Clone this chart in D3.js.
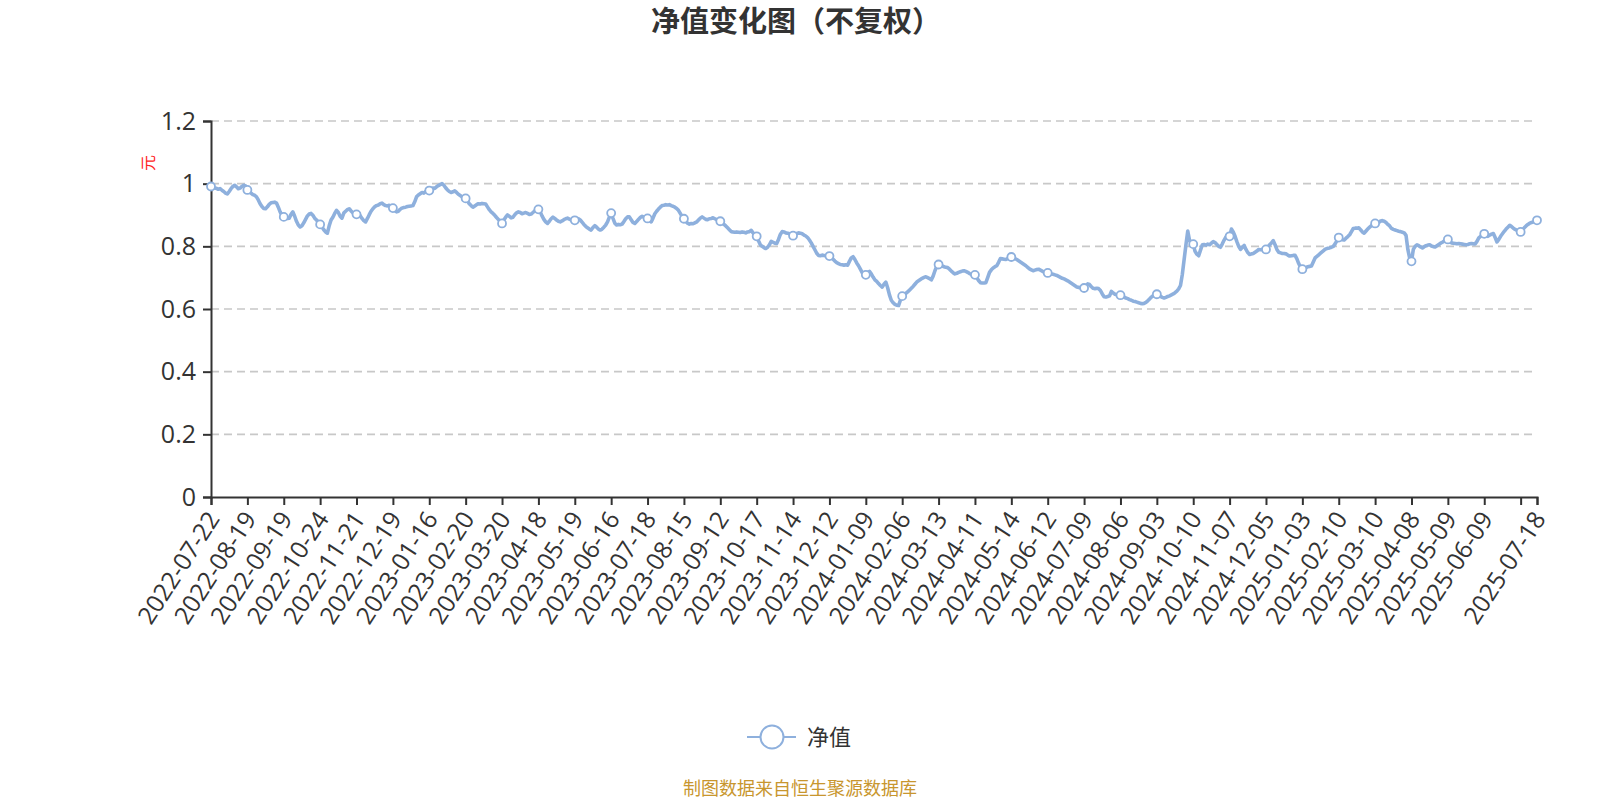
<!DOCTYPE html>
<html>
<head>
<meta charset="utf-8">
<script src="https://cdn.jsdelivr.net/npm/d3@7"></script>
<style>
  body { margin: 0; background: #fff; }
  text { font-family: "Open Sans", "Noto Sans CJK SC", sans-serif; }
</style>
</head>
<body>
<div id="chart"></div>
<script>
// tick labels shown under the axis, one every 20 trading days
const tickLabels = [
  "2022-07-22", "2022-08-19", "2022-09-19", "2022-10-24", "2022-11-21", "2022-12-19",
  "2023-01-16", "2023-02-20", "2023-03-20", "2023-04-18", "2023-05-19", "2023-06-16",
  "2023-07-18", "2023-08-15", "2023-09-12", "2023-10-17", "2023-11-14", "2023-12-12",
  "2024-01-09", "2024-02-06", "2024-03-13", "2024-04-11", "2024-05-14", "2024-06-12",
  "2024-07-09", "2024-08-06", "2024-09-03", "2024-10-10", "2024-11-07", "2024-12-05",
  "2025-01-03", "2025-02-10", "2025-03-10", "2025-04-08", "2025-05-09", "2025-06-09"
];
const lastLabel = "2025-07-18";

// 净值, one value per trading day
const navValues = [
  0.991, 0.989, 0.986, 0.985, 0.982, 0.984, 0.979, 0.975, 0.970, 0.967,
  0.975, 0.984, 0.991, 0.995, 0.990, 0.984, 0.986, 0.991, 0.995, 0.993,
  0.980, 0.976, 0.970, 0.965, 0.963, 0.958, 0.948, 0.936, 0.927, 0.921,
  0.920, 0.926, 0.934, 0.939, 0.940, 0.941, 0.938, 0.925, 0.910, 0.899,
  0.894, 0.893, 0.889, 0.890, 0.902, 0.910, 0.896, 0.880, 0.868, 0.862,
  0.866, 0.875, 0.886, 0.897, 0.903, 0.905, 0.899, 0.890, 0.884, 0.877,
  0.870, 0.862, 0.853, 0.846, 0.842, 0.866, 0.884, 0.893, 0.905, 0.915,
  0.908, 0.896, 0.890, 0.906, 0.912, 0.917, 0.920, 0.913, 0.907, 0.904,
  0.902, 0.905, 0.898, 0.889, 0.882, 0.878, 0.889, 0.901, 0.912, 0.920,
  0.926, 0.930, 0.932, 0.936, 0.938, 0.933, 0.930, 0.929, 0.931, 0.925,
  0.922, 0.914, 0.910, 0.912, 0.918, 0.922, 0.924, 0.925, 0.927, 0.928,
  0.929, 0.930, 0.942, 0.958, 0.964, 0.968, 0.972, 0.970, 0.975, 0.977,
  0.978, 0.982, 0.986, 0.985, 0.990, 0.994, 0.997, 1.000, 0.995, 0.987,
  0.980, 0.975, 0.972, 0.974, 0.977, 0.972, 0.966, 0.962, 0.958, 0.955,
  0.953, 0.945, 0.936, 0.930, 0.925, 0.929, 0.933, 0.936, 0.935, 0.937,
  0.936, 0.935, 0.926, 0.917, 0.910, 0.905, 0.899, 0.892, 0.886, 0.880,
  0.873, 0.884, 0.893, 0.900, 0.896, 0.891, 0.893, 0.901, 0.907, 0.910,
  0.908, 0.904, 0.906, 0.908, 0.905, 0.902, 0.903, 0.908, 0.913, 0.916,
  0.918, 0.910, 0.897, 0.886, 0.878, 0.873, 0.880, 0.888, 0.893, 0.889,
  0.884, 0.880, 0.878, 0.881, 0.885, 0.888, 0.890, 0.887, 0.884, 0.882,
  0.883, 0.886, 0.888, 0.884, 0.877, 0.870, 0.864, 0.859, 0.855, 0.852,
  0.860, 0.866, 0.861, 0.855, 0.852, 0.855, 0.861, 0.868, 0.878, 0.893,
  0.906, 0.889, 0.874, 0.868, 0.870, 0.869, 0.871, 0.879, 0.888, 0.894,
  0.894, 0.885, 0.876, 0.873, 0.879, 0.886, 0.892, 0.896, 0.893, 0.890,
  0.889, 0.883, 0.878, 0.890, 0.904, 0.912, 0.919, 0.925, 0.930, 0.931,
  0.933, 0.932, 0.933, 0.930, 0.928, 0.925, 0.921, 0.915, 0.905, 0.895,
  0.888, 0.880, 0.874, 0.871, 0.873, 0.872, 0.875, 0.878, 0.884, 0.890,
  0.894, 0.890, 0.886, 0.885, 0.888, 0.889, 0.891, 0.888, 0.885, 0.882,
  0.880, 0.876, 0.870, 0.865, 0.859, 0.853, 0.847, 0.846, 0.845, 0.846,
  0.845, 0.844, 0.846, 0.845, 0.843, 0.846, 0.847, 0.851, 0.843, 0.836,
  0.832, 0.818, 0.805, 0.800, 0.796, 0.793, 0.797, 0.805, 0.816, 0.813,
  0.810, 0.809, 0.822, 0.838, 0.847, 0.846, 0.843, 0.842, 0.840, 0.837,
  0.834, 0.838, 0.841, 0.843, 0.842, 0.840, 0.836, 0.833, 0.828, 0.820,
  0.811, 0.800, 0.789, 0.778, 0.771, 0.770, 0.772, 0.771, 0.770, 0.770,
  0.769, 0.765, 0.759, 0.753, 0.748, 0.745, 0.742, 0.741, 0.740, 0.741,
  0.740, 0.752, 0.763, 0.767, 0.758, 0.747, 0.738, 0.727, 0.716, 0.711,
  0.709, 0.716, 0.720, 0.712, 0.702, 0.693, 0.688, 0.681, 0.675, 0.670,
  0.679, 0.686, 0.668, 0.645, 0.628, 0.620, 0.615, 0.612, 0.611, 0.628,
  0.641, 0.645, 0.650, 0.655, 0.660, 0.666, 0.672, 0.679, 0.686, 0.690,
  0.694, 0.698, 0.701, 0.703, 0.700, 0.697, 0.693, 0.705, 0.722, 0.736,
  0.742, 0.740, 0.737, 0.735, 0.733, 0.732, 0.727, 0.721, 0.716, 0.712,
  0.714, 0.717, 0.719, 0.721, 0.722, 0.720, 0.717, 0.713, 0.711, 0.710,
  0.709, 0.700, 0.691, 0.684, 0.683, 0.683, 0.684, 0.700, 0.717, 0.725,
  0.731, 0.735, 0.738, 0.749, 0.761, 0.760, 0.759, 0.758, 0.761, 0.764,
  0.766, 0.764, 0.761, 0.758, 0.754, 0.750, 0.746, 0.742, 0.738, 0.733,
  0.728, 0.725, 0.722, 0.724, 0.726, 0.727, 0.724, 0.721, 0.718, 0.716,
  0.715, 0.713, 0.712, 0.711, 0.709, 0.707, 0.704, 0.701, 0.698, 0.696,
  0.693, 0.690, 0.686, 0.682, 0.678, 0.674, 0.670, 0.669, 0.668, 0.667,
  0.667, 0.673, 0.680, 0.678, 0.671, 0.666, 0.665, 0.666, 0.665, 0.659,
  0.648, 0.639, 0.638, 0.640, 0.642, 0.656, 0.651, 0.647, 0.645, 0.644,
  0.644, 0.641, 0.638, 0.635, 0.633, 0.630, 0.628, 0.625, 0.624, 0.622,
  0.620, 0.618, 0.617, 0.618, 0.621, 0.626, 0.632, 0.638, 0.643, 0.646,
  0.647, 0.644, 0.640, 0.637, 0.635, 0.637, 0.640, 0.642, 0.645, 0.648,
  0.652, 0.657, 0.664, 0.675, 0.710, 0.758, 0.805, 0.849, 0.818, 0.810,
  0.807, 0.784, 0.775, 0.770, 0.788, 0.805, 0.806, 0.804, 0.807, 0.805,
  0.810, 0.815, 0.812, 0.806, 0.800, 0.797, 0.808, 0.820, 0.830, 0.831,
  0.832, 0.855, 0.846, 0.832, 0.815, 0.800, 0.790, 0.797, 0.803, 0.790,
  0.780, 0.774, 0.776, 0.777, 0.781, 0.785, 0.790, 0.789, 0.790, 0.791,
  0.790, 0.797, 0.805, 0.811, 0.818, 0.805, 0.790, 0.781, 0.779, 0.777,
  0.777, 0.776, 0.772, 0.769, 0.770, 0.771, 0.771, 0.760, 0.745, 0.733,
  0.727, 0.729, 0.732, 0.735, 0.736, 0.737, 0.750, 0.763, 0.768, 0.773,
  0.778, 0.783, 0.788, 0.792, 0.794, 0.795, 0.797, 0.800, 0.808, 0.818,
  0.828, 0.824, 0.821, 0.820, 0.826, 0.831, 0.837, 0.847, 0.857, 0.858,
  0.858, 0.859, 0.853, 0.846, 0.842, 0.849, 0.856, 0.861, 0.866, 0.870,
  0.873, 0.872, 0.876, 0.881, 0.882, 0.880, 0.876, 0.870, 0.865, 0.857,
  0.854, 0.852, 0.850, 0.848, 0.847, 0.845, 0.843, 0.835, 0.790, 0.762,
  0.752, 0.790, 0.800, 0.805, 0.802, 0.798, 0.795, 0.799, 0.802, 0.804,
  0.805, 0.801, 0.799, 0.798, 0.802, 0.806, 0.810, 0.813, 0.817, 0.820,
  0.822, 0.816, 0.811, 0.810, 0.809, 0.808, 0.809, 0.808, 0.807, 0.806,
  0.805, 0.806, 0.808, 0.809, 0.808, 0.808, 0.816, 0.827, 0.832, 0.836,
  0.840, 0.836, 0.832, 0.836, 0.839, 0.841, 0.828, 0.814, 0.822, 0.832,
  0.840, 0.848, 0.855, 0.861, 0.867, 0.863, 0.858, 0.854, 0.851, 0.848,
  0.846, 0.852, 0.859, 0.865, 0.870, 0.874, 0.876, 0.878, 0.880, 0.883
];

const yTicks = [0, 0.2, 0.4, 0.6, 0.8, 1.0, 1.2];

const width = 1600;
const height = 800;
const margin = { top: 121, right: 63, bottom: 303, left: 211 };
const lineColor = "#8eb0dd";
const step = 20;

const svg = d3.select("#chart")
    .append("svg")
    .attr("width", width)
    .attr("height", height);

const lastIdx = navValues.length - 1;
const tickIdx = d3.range(0, navValues.length, step).concat(lastIdx);

const xScale = d3.scaleLinear()
    .domain([0, lastIdx])
    .range([margin.left, width - margin.right]);

const yScale = d3.scaleLinear()
    .domain([0, 1.2])
    .range([height - margin.bottom, margin.top]);

function labelFor(i) {
    if (i === lastIdx) return lastLabel;
    return tickLabels[i / step] || "";
}

// grid
svg.append("g")
    .selectAll("line")
    .data(yTicks.filter(d => d > 0))
    .enter()
    .append("line")
    .attr("x1", margin.left)
    .attr("x2", width - margin.right)
    .attr("y1", d => yScale(d))
    .attr("y2", d => yScale(d))
    .attr("stroke", "#c8c8c8")
    .attr("stroke-width", 1.6)
    .attr("stroke-dasharray", "8,5");

// x axis
const xAxis = svg.append("g")
    .attr("transform", `translate(0,${height - margin.bottom})`)
    .call(d3.axisBottom(xScale).tickValues(tickIdx).tickFormat(labelFor).tickSize(8));

xAxis.select(".domain").attr("stroke", "#333").attr("stroke-width", 2);
xAxis.selectAll(".tick line").attr("stroke", "#333").attr("stroke-width", 2);
xAxis.selectAll("text")
    .attr("x", 0)
    .attr("y", 0)
    .attr("dy", "0.35em")
    .attr("transform", "translate(2,17) rotate(-57)")
    .style("text-anchor", "end")
    .style("font-size", "24.5px")
    .attr("fill", "#333");

// y axis
const yAxis = svg.append("g")
    .attr("transform", `translate(${margin.left},0)`)
    .call(d3.axisLeft(yScale).tickValues(yTicks).tickFormat(d => String(+d.toFixed(1))).tickSize(8).tickPadding(7));

yAxis.select(".domain").attr("stroke", "#333").attr("stroke-width", 2);
yAxis.selectAll(".tick line").attr("stroke", "#333").attr("stroke-width", 2);
yAxis.selectAll("text")
    .style("font-size", "25px")
    .attr("fill", "#333");

// unit
svg.append("text")
    .attr("transform", `translate(148,163) rotate(-90)`)
    .attr("text-anchor", "middle")
    .attr("dy", "0.35em")
    .style("font-size", "16px")
    .attr("fill", "#f22")
    .text("元");

// line
const line = d3.line()
    .x((d, i) => xScale(i))
    .y(d => yScale(d));

svg.append("path")
    .datum(navValues)
    .attr("fill", "none")
    .attr("stroke", lineColor)
    .attr("stroke-width", 3.6)
    .attr("stroke-linejoin", "round")
    .attr("d", line);

svg.selectAll(".dot")
    .data(tickIdx)
    .enter()
    .append("circle")
    .attr("class", "dot")
    .attr("cx", i => xScale(i))
    .attr("cy", i => yScale(navValues[i]))
    .attr("r", 4)
    .attr("fill", "#fff")
    .attr("stroke", lineColor)
    .attr("stroke-width", 1.8);

// title
svg.append("text")
    .attr("x", 796)
    .attr("y", 22)
    .attr("dy", "0.35em")
    .attr("text-anchor", "middle")
    .style("font-size", "29px")
    .style("font-weight", "bold")
    .attr("fill", "#333")
    .text("净值变化图（不复权）");

// legend
const legend = svg.append("g").attr("transform", "translate(772,737)");
legend.append("line")
    .attr("x1", -25).attr("x2", 24)
    .attr("stroke", lineColor)
    .attr("stroke-width", 2);
legend.append("circle")
    .attr("r", 11.5)
    .attr("fill", "#fff")
    .attr("stroke", lineColor)
    .attr("stroke-width", 2);
legend.append("text")
    .attr("x", 35)
    .attr("dy", "0.35em")
    .style("font-size", "22px")
    .attr("fill", "#333")
    .text("净值");

// source
svg.append("text")
    .attr("x", 800)
    .attr("y", 789)
    .attr("dy", "0.35em")
    .attr("text-anchor", "middle")
    .style("font-size", "18px")
    .attr("fill", "#c8962e")
    .text("制图数据来自恒生聚源数据库");
</script>
</body>
</html>
